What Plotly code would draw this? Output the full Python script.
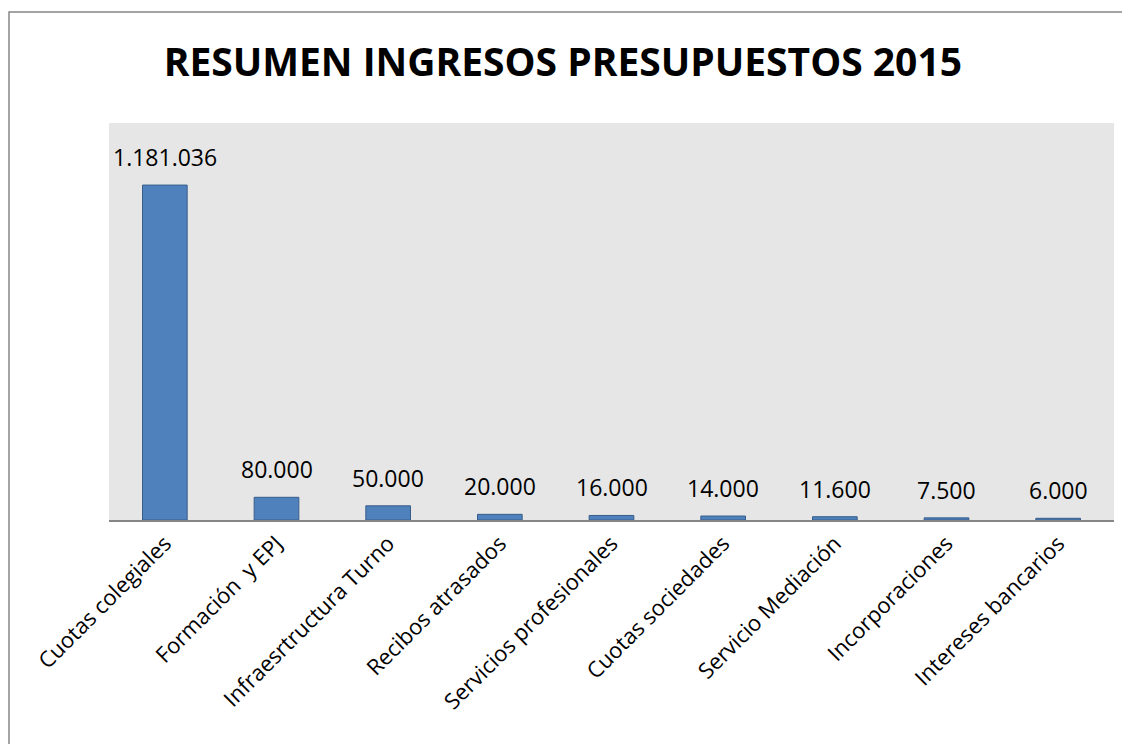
import plotly.graph_objects as go

# ------------------------------
# DATA
# ------------------------------
categorias = [
    "Cuotas colegiales", "Formación  y EPJ", "Infraesrtructura Turno",
    "Recibos atrasados", "Servicios profesionales", "Cuotas sociedades",
    "Servicio Mediación", "Incorporaciones", "Intereses bancarios"
]
importes = [1181036, 80000, 50000, 20000, 16000, 14000, 11600, 7500, 6000]
etiquetas = ["1.181.036", "80.000", "50.000", "20.000", "16.000",
             "14.000", "11.600", "7.500", "6.000"]

FONT = "Open Sans"

fig = go.Figure()
fig.add_trace(go.Bar(
    x=categorias,
    y=importes,
    width=0.4,
    marker=dict(color="#4F81BD", line=dict(color="#385D8A", width=1)),
    hoverinfo="x+y",
))

# value labels above each bar
for cat, val, txt in zip(categorias, importes, etiquetas):
    fig.add_annotation(
        x=cat, y=val, text=txt, showarrow=False,
        yanchor="bottom", yshift=10,
        font=dict(family=FONT, size=23, color="black"),
    )

# outer chart border (cropped on the right/bottom like the original)
fig.add_shape(
    type="rect", xref="paper", yref="paper",
    x0=-0.0995, x1=1.2, y0=-0.8, y1=1.2796,
    line=dict(color="#868686", width=1.5),
    layer="below",
)

# page body has an 8px margin, so everything is shifted up/left by 8px here
fig.update_layout(
    width=1130,
    height=744,
    title=dict(
        text="<b>RESUMEN INGRESOS PRESUPUESTOS 2015</b>",
        x=0.491, xanchor="center",
        y=1 - 54 / 744, yanchor="middle",
        font=dict(family=FONT, size=39, color="black"),
    ),
    margin=dict(l=101, r=24, t=115, b=232),
    paper_bgcolor="white",
    plot_bgcolor="#E6E6E6",
    showlegend=False,
    xaxis=dict(
        tickangle=-45,
        tickfont=dict(family=FONT, size=22, color="black"),
        showline=True, linecolor="#868686", linewidth=2,
        ticks="", showgrid=False,
    ),
    yaxis=dict(
        range=[0, 1400000],
        visible=False,
        showgrid=False,
    ),
)

fig.write_html("out.html")
